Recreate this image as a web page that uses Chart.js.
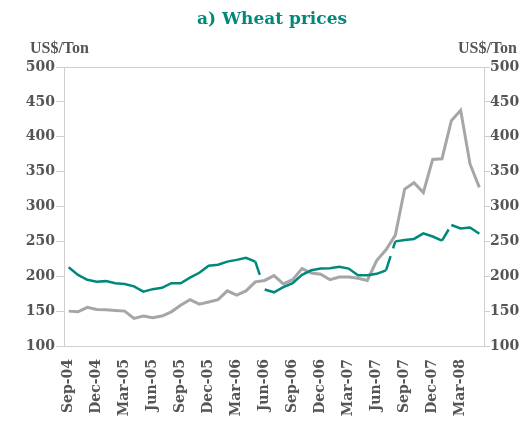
<!DOCTYPE html>
<html>
<head>
<meta charset="utf-8">
<script src="https://cdn.jsdelivr.net/npm/chart.js@4/dist/chart.umd.min.js"></script>
<style>
  html, body { margin: 0; padding: 0; background: #ffffff; }
  #wrap { width: 528px; height: 425px; position: relative; }
</style>
</head>
<body>
<div id="wrap"><canvas id="c" width="528" height="425"></canvas></div>
<script>
// ---- data ----
const titleText = 'a) Wheat prices';
const unitLabel = 'US$/Ton';
const categories = [
  'Sep-04','Oct-04','Nov-04','Dec-04',
  'Jan-05','Feb-05','Mar-05','Apr-05','May-05','Jun-05','Jul-05','Aug-05','Sep-05','Oct-05','Nov-05','Dec-05',
  'Jan-06','Feb-06','Mar-06','Apr-06','May-06','Jun-06','Jul-06','Aug-06','Sep-06','Oct-06','Nov-06','Dec-06',
  'Jan-07','Feb-07','Mar-07','Apr-07','May-07','Jun-07','Jul-07','Aug-07','Sep-07','Oct-07','Nov-07','Dec-07',
  'Jan-08','Feb-08','Mar-08','Apr-08','May-08'
];
const greySeries = [150,149,155.5,152.5,152,151,150,139.5,143,140.5,143,149,158.5,166.5,160,163,166.5,179,173,179,
  192,194,201,189,195,211,204.5,203,195,199,199,197,194,222.5,238,259,325,334,320,367.5,368.5,423,438,361,327.5];
const greenSeries = [213,202,195,192,193,190,189,185.5,178,181.5,183.5,190,190,198,205,215,216.5,221,223.5,226.5,
  221,181,177,184.5,190,202,208.5,211,211.5,213.5,211,201.5,201.5,203.5,208.5,250,252,253.5,261.5,257,251,273.5,268.5,270,261];
const yMin = 100, yMax = 500, yStep = 50;
const tickEvery = 3;

// ---- styling ----
const GREEN = '#00897b';
const GREY = '#a6a6a6';
const AXIS = '#cfcfcf';
const TEXT = '#555555';
const gapDash = { 20: [14, 100], 34: [15, 8], 40: [13, 100] };

const textPlugin = {
  id: 'texts',
  afterDraw(chart) {
    const ctx = chart.ctx;
    ctx.save();
    ctx.textBaseline = 'alphabetic';
    ctx.font = 'bold 17px "DejaVu Serif"';
    ctx.fillStyle = GREEN;
    ctx.textAlign = 'center';
    ctx.fillText(titleText, 272, 24);
    ctx.font = 'bold 16px "Liberation Serif"';
    ctx.fillStyle = TEXT;
    ctx.textAlign = 'left';
    ctx.fillText(unitLabel, 30, 53);
    ctx.textAlign = 'right';
    ctx.fillText(unitLabel, 517, 53);
    ctx.restore();
  }
};

new Chart(document.getElementById('c'), {
  type: 'line',
  data: {
    labels: categories,
    datasets: [
      {
        label: 'Series 2',
        data: greenSeries,
        borderColor: GREEN,
        borderWidth: 2.5,
        pointRadius: 0,
        tension: 0,
        fill: false,
        yAxisID: 'y',
        segment: {
          borderDash: (c) => gapDash[c.p0DataIndex] || undefined
        }
      },
      {
        label: 'Series 1',
        data: greySeries,
        borderColor: GREY,
        borderWidth: 3,
        pointRadius: 0,
        tension: 0,
        fill: false,
        yAxisID: 'y'
      }
    ]
  },
  options: {
    responsive: false,
    animation: false,
    events: [],
    layout: { padding: { top: 67, left: 0, right: 0, bottom: 0 } },
    plugins: {
      legend: { display: false },
      title: { display: false },
      tooltip: { enabled: false }
    },
    scales: {
      x: {
        type: 'category',
        offset: true,
        grid: { display: false, drawTicks: false },
        border: { display: true, color: AXIS, width: 1 },
        ticks: {
          autoSkip: false,
          maxRotation: 90,
          minRotation: 90,
          padding: 13,
          color: TEXT,
          font: { family: '"DejaVu Serif"', size: 14, weight: 'bold' },
          callback: function (v, i) { return i % tickEvery === 0 ? this.getLabelForValue(v) : ''; }
        },
        afterFit: (s) => { s.height = 79; }
      },
      y: {
        position: 'left',
        min: yMin, max: yMax,
        grid: {
          drawOnChartArea: true,
          color: (c) => (c.tick && c.tick.value === yMax) ? AXIS : 'rgba(0,0,0,0)',
          tickColor: AXIS,
          tickLength: 8,
          lineWidth: 1
        },
        border: { display: true, color: AXIS, width: 1 },
        ticks: {
          stepSize: yStep,
          padding: 1,
          color: TEXT,
          font: { family: '"DejaVu Serif"', size: 14, weight: 'bold' }
        },
        afterFit: (s) => { s.width = 64; }
      },
      y2: {
        position: 'right',
        min: yMin, max: yMax,
        grid: { drawOnChartArea: false, tickColor: AXIS, tickLength: 6 },
        border: { display: true, color: AXIS, width: 1 },
        ticks: {
          stepSize: yStep,
          padding: 0,
          color: TEXT,
          font: { family: '"DejaVu Serif"', size: 14, weight: 'bold' }
        },
        afterFit: (s) => { s.width = 44; }
      }
    }
  },
  plugins: [textPlugin]
});
</script>
</body>
</html>
